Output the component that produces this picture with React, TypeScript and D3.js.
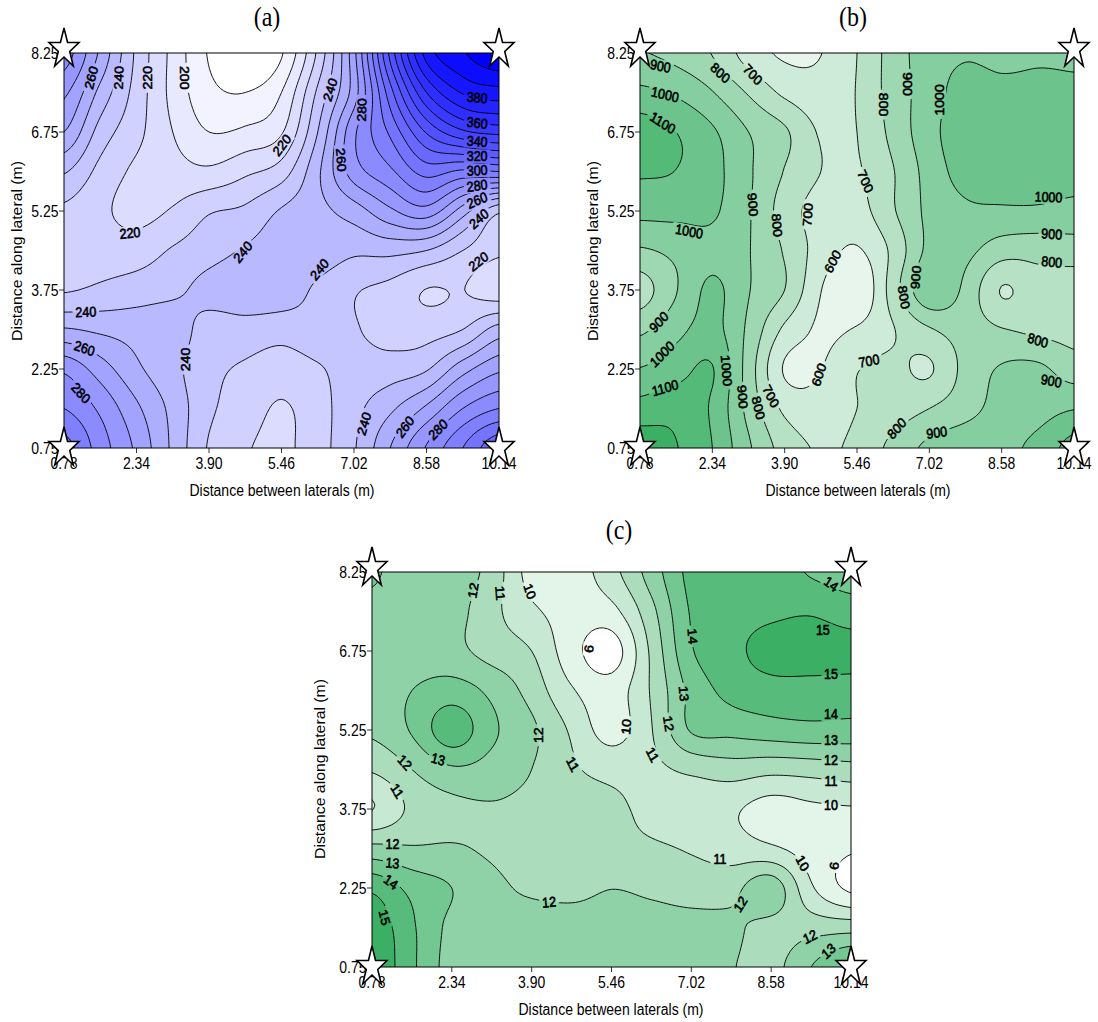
import React from "react";
import * as d3 from "d3";

const xTicks = [0.78, 2.34, 3.9, 5.46, 7.02, 8.58, 10.14];
const yTicks = [0.75, 2.25, 3.75, 5.25, 6.75, 8.25];
const xTitle = "Distance between laterals (m)";
const yTitle = "Distance along lateral (m)";

// Values read on a regular grid: columns run 0.78..10.14 (step 0.78), rows run 8.25..0.75 (step 0.75)
const gridA = [
  [285, 258, 228, 207, 189, 178, 189, 222, 267, 333, 384, 399, 408],
  [272, 247, 226, 207, 193, 190, 200, 232, 265, 316, 360, 381, 386],
  [260, 236, 223, 210, 200, 202, 209, 240, 278, 302, 331, 348, 353],
  [241, 227, 218, 214, 212, 218, 225, 248, 275, 288, 304, 298, 300],
  [228, 222, 217, 221, 229, 232, 241, 247, 255, 268, 276, 255, 232],
  [225, 225, 225, 231, 236, 241, 245, 246, 242, 243, 240, 230, 222],
  [229, 232, 235, 238, 243, 246, 246, 238, 231, 227, 219.7, 220.2, 214],
  [251, 248, 246, 245, 236, 236, 234, 236, 231, 226, 226, 230, 244],
  [278, 265, 252, 243, 233, 228.5, 225, 229, 234, 235, 239, 256, 268],
  [290, 278, 262, 247, 232, 225, 219, 226, 237, 248, 262, 280, 290],
  [304, 285, 268, 248, 229, 221, 218, 226, 239, 260, 281, 300, 318],
];
const gridB = [
  [905, 870, 795, 655, 585, 598, 700, 845, 955, 990, 970, 985, 985],
  [1024, 985, 905, 790, 680, 640, 705, 845, 950, 1045, 1030, 1030, 1020],
  [1150, 1100, 1015, 900, 815, 690, 700, 830, 965, 1060, 1050, 1050, 1050],
  [1112, 1098, 1035, 915, 795, 700, 690, 795, 940, 1040, 1050, 1045, 1040],
  [1030, 1030, 1015, 910, 755, 660, 660, 790, 925, 980, 985, 985, 968],
  [888, 925, 970, 905, 790, 655, 590, 725, 925, 925, 845, 835, 850],
  [755, 895, 1020, 905, 800, 603, 509, 750, 982, 875, 695, 760, 745],
  [880, 970, 1030, 880, 680, 585, 610, 695, 790, 840, 805, 780, 765],
  [1005, 1060, 1105, 855, 590, 598, 695, 720, 690, 830, 910, 920, 850],
  [1140, 1165, 1085, 870, 680, 640, 700, 745, 800, 865, 935, 960, 995],
  [1260, 1205, 1100, 915, 760, 690, 725, 830, 925, 965, 975, 1030, 1140],
];
const gridC = [
  [13.1, 12.6, 12.6, 11.6, 9.6, 9.5, 10.65, 12.45, 14.3, 14.6, 14.5, 13.9, 13.5],
  [12.8, 12.6, 12.4, 11.3, 10.2, 9.6, 9.7, 11.7, 14.1, 14.6, 14.8, 14.9, 14.5],
  [12.6, 12.5, 12.3, 11.6, 11.0, 9.4, 8.5, 11.2, 13.9, 14.7, 15.4, 15.5, 15.4],
  [12.6, 13.0, 13.45, 12.75, 11.6, 10.1, 9.5, 11.1, 13.3, 14.3, 14.6, 14.6, 14.55],
  [12.2, 13.1, 14.6, 13.2, 12.2, 10.85, 9.6, 10.95, 13.1, 13.3, 13.55, 13.7, 13.65],
  [11.1, 12.0, 12.85, 12.6, 12.0, 11.15, 10.7, 10.8, 11.2, 11.5, 11.3, 11.4, 11.6],
  [9.97, 11.2, 11.7, 11.9, 11.7, 11.5, 11.25, 10.7, 10.4, 10.15, 9.6, 9.8, 9.9],
  [12.3, 12.1, 12.1, 11.85, 11.5, 11.4, 11.3, 11.15, 10.9, 10.5, 10.15, 9.6, 9.1],
  [14.8, 13.7, 13.0, 12.3, 11.8, 11.7, 11.98, 11.8, 11.6, 11.7, 12.6, 10.15, 8.8],
  [15.7, 14.15, 12.75, 12.5, 12.6, 12.5, 12.5, 12.4, 12.3, 12.15, 11.7, 11.6, 11.6],
  [15.9, 14.2, 12.6, 12.5, 12.5, 12.5, 12.5, 12.4, 12.3, 12.05, 11.7, 13.0, 14.2],
];

const levelsA = d3.range(190, 410, 10);
const levelsB = [500, 600, 700, 800, 900, 1000, 1100, 1200];
const levelsC = [9, 10, 11, 12, 13, 14, 15];

// [text, x, y, angle]
type Lab = [string, number, number, number];
const labelsA: Lab[] = [
  ["260", 1.37, 7.78, -75], ["240", 1.96, 7.78, -88], ["220", 2.59, 7.78, -90], ["200", 3.37, 7.78, 90],
  ["240", 6.51, 7.55, -72], ["280", 7.19, 7.17, -88], ["220", 5.47, 6.5, -50], ["260", 6.74, 6.22, 85],
  ["380", 9.67, 7.4, 5], ["360", 9.67, 6.92, 6], ["340", 9.67, 6.57, 4], ["320", 9.67, 6.29, 0],
  ["300", 9.67, 6.02, -3], ["280", 9.67, 5.73, -7], ["260", 9.67, 5.45, -22], ["240", 9.71, 5.1, -38],
  ["220", 9.7, 4.29, -35], ["220", 2.2, 4.83, -5], ["240", 4.63, 4.47, -48], ["240", 6.28, 4.14, -48],
  ["240", 1.25, 3.33, -2], ["260", 1.22, 2.64, 17], ["240", 3.41, 2.43, -90], ["280", 1.14, 1.79, 45],
  ["240", 7.24, 1.21, -72], ["260", 8.12, 1.15, -50], ["280", 8.83, 1.1, -42],
];
const labelsB: Lab[] = [
  ["900", 1.22, 8.0, 10], ["800", 2.51, 7.87, 40], ["700", 3.21, 7.84, 45], ["1000", 1.32, 7.46, 12],
  ["1100", 1.27, 6.92, 30], ["1000", 7.25, 7.36, -90], ["900", 6.55, 7.66, 90], ["800", 6.02, 7.27, 90],
  ["700", 5.64, 5.81, 65], ["900", 3.21, 5.37, 85], ["800", 3.73, 4.98, 85], ["700", 4.4, 5.18, -85],
  ["1000", 1.84, 4.86, 10], ["1000", 9.59, 5.51, 2], ["900", 9.66, 4.81, 3], ["800", 9.66, 4.28, 5],
  ["600", 4.94, 4.29, -60], ["900", 6.73, 3.99, -85], ["800", 6.47, 3.61, 80], ["900", 1.19, 3.14, -45],
  ["1000", 1.26, 2.53, -42], ["800", 9.36, 2.79, 15], ["700", 5.72, 2.4, -10], ["600", 4.64, 2.14, -70],
  ["1000", 2.64, 2.22, 85], ["900", 2.99, 1.72, 85], ["800", 3.33, 1.51, 75], ["700", 3.6, 1.73, 60],
  ["1100", 1.32, 1.89, -15], ["900", 9.65, 2.02, 10], ["900", 7.18, 1.04, -8], ["800", 6.32, 1.12, -45],
];
const labelsC: Lab[] = [
  ["12", 2.76, 7.9, -80], ["11", 3.28, 7.85, 85], ["10", 3.86, 7.88, 70], ["14", 9.75, 8.02, 35],
  ["15", 9.59, 7.14, 0], ["14", 7.04, 7.03, 85], ["9", 5.02, 6.79, 95], ["15", 9.75, 6.31, 0],
  ["13", 6.87, 5.94, 85], ["14", 9.75, 5.55, 0], ["12", 6.57, 5.37, 80], ["12", 4.03, 5.15, -90],
  ["10", 5.75, 5.31, -85], ["13", 9.75, 5.05, 0], ["12", 9.75, 4.67, 0], ["11", 6.26, 4.78, 60],
  ["11", 4.7, 4.6, 60], ["13", 2.07, 4.69, 15], ["12", 1.42, 4.63, 45], ["11", 9.75, 4.28, 0],
  ["11", 1.27, 4.09, 55], ["10", 9.75, 3.83, 0], ["12", 1.18, 3.09, 0], ["13", 1.18, 2.72, 5],
  ["11", 7.58, 2.79, 0], ["10", 9.19, 2.72, 60], ["9", 9.81, 2.67, 95], ["14", 1.15, 2.36, 35],
  ["12", 4.24, 1.98, -5], ["12", 7.98, 1.94, -55], ["15", 1.02, 1.69, 75], ["12", 9.34, 1.32, -25],
  ["13", 9.7, 1.05, -40],
];

const FACTOR = 10;
const TALL = 1.13; // the original figure's lettering is drawn taller than wide

function refine(grid: number[][]) {
  const rows = grid.length, cols = grid[0].length;
  const at = (r: number, c: number) =>
    grid[Math.max(0, Math.min(rows - 1, r))][Math.max(0, Math.min(cols - 1, c))];
  const cr = (p0: number, p1: number, p2: number, p3: number, t: number) =>
    0.5 * (2 * p1 + (p2 - p0) * t + (2 * p0 - 5 * p1 + 4 * p2 - p3) * t * t + (3 * p1 - p0 - 3 * p2 + p3) * t * t * t);
  const w = (cols - 1) * FACTOR + 1, h = (rows - 1) * FACTOR + 1;
  const out = new Array(w * h);
  for (let j = 0; j < h; j++) {
    const rf = j / FACTOR, r = Math.min(rows - 2, Math.floor(rf)), tr = rf - r;
    for (let i = 0; i < w; i++) {
      const cf = i / FACTOR, c = Math.min(cols - 2, Math.floor(cf)), tc = cf - c;
      const v = [-1, 0, 1, 2].map((dr) =>
        cr(at(r + dr, c - 1), at(r + dr, c), at(r + dr, c + 1), at(r + dr, c + 2), tc));
      out[j * w + i] = cr(v[0], v[1], v[2], v[3], tr);
    }
  }
  return { values: out, w, h };
}

function Star({ x, y }: { x: number; y: number }) {
  const d = d3.symbol(d3.symbolStar, 1000)() as string;
  const R = Math.sqrt(1000 * 0.8908130915);
  return (
    <path d={d} fill="#fff" stroke="#000" strokeWidth={1.6} strokeLinejoin="miter"
      vectorEffect="non-scaling-stroke"
      transform={`translate(${x},${y + 2}) scale(${30 / (1.9 * R)},${38 / (1.81 * R)})`} />
  );
}

type PanelProps = {
  id: string; title: string; grid: number[][]; levels: number[]; colors: string[]; labels: Lab[];
  left: number; right: number; top: number; bottom: number; titleX: number; titleY: number;
  xTitleX: number; xTitleY: number; yTitleX: number; yTitleY: number;
};

function Panel(p: PanelProps) {
  const sx = d3.scaleLinear().domain([0.78, 10.14]).range([p.left, p.right]);
  const sy = d3.scaleLinear().domain([0.75, 8.25]).range([p.bottom, p.top]);
  const { values, w, h } = refine(p.grid);
  const gx = d3.scaleLinear().domain([0.5, w - 0.5]).range([p.left, p.right]);
  const gy = d3.scaleLinear().domain([0.5, h - 0.5]).range([p.top, p.bottom]);
  const path = d3.geoPath(d3.geoTransform({
    point(x: number, y: number) { (this as any).stream.point(gx(x), gy(y)); },
  }));
  const bands = d3.contours().size([w, h]).thresholds(p.levels)(values);
  const lw = p.right - p.left, lh = p.bottom - p.top;
  const tall = (x: number, y: number, a = 0) => `translate(${x},${y}) scale(1,${TALL}) rotate(${a})`;
  return (
    <g>
      <defs>
        <clipPath id={`clip-${p.id}`}><rect x={p.left} y={p.top} width={lw} height={lh} /></clipPath>
        <mask id={`mask-${p.id}`} maskUnits="userSpaceOnUse" x={p.left - 5} y={p.top - 5} width={lw + 10} height={lh + 10}>
          <rect x={p.left - 5} y={p.top - 5} width={lw + 10} height={lh + 10} fill="#fff" />
          {p.labels.map((l, i) => {
            const bw = l[0].length * 7.2 + 5;
            return <rect key={i} x={-bw / 2} y={-6} width={bw} height={12} fill="#000"
              transform={tall(sx(l[1]), sy(l[2]), l[3])} />;
          })}
        </mask>
      </defs>
      <text transform={tall(p.titleX, p.titleY)} textAnchor="middle" fontFamily="'Liberation Serif'" fontSize={24}>{p.title}</text>
      <rect x={p.left} y={p.top} width={lw} height={lh} fill="#fff" />
      <g clipPath={`url(#clip-${p.id})`}>
        {bands.map((b, i) => (
          <path key={i} d={path(b as any) || ""} fill={p.colors[i]} />
        ))}
        <g mask={`url(#mask-${p.id})`}>
          {bands.map((b, i) => (
            <path key={i} d={path(b as any) || ""} fill="none" stroke="#000" strokeWidth={0.9} />
          ))}
        </g>
      </g>
      {p.labels.map((l, i) => (
        <text key={i} textAnchor="middle" dominantBaseline="central" fontFamily="'Liberation Sans'" fontSize={12.5}
          stroke="#000" strokeWidth={0.55}
          transform={tall(sx(l[1]), sy(l[2]), l[3])}>{l[0]}</text>
      ))}
      <rect x={p.left} y={p.top} width={lw} height={lh} fill="none" stroke="#000" strokeWidth={1} />
      {xTicks.map((t) => (
        <g key={t} transform={`translate(${sx(t)},${p.bottom})`}>
          <line y2={5} stroke="#000" strokeWidth={0.8} />
          <text transform={tall(0, 21)} textAnchor="middle" fontFamily="'Liberation Sans'" fontSize={14}>{t.toFixed(2)}</text>
        </g>
      ))}
      {yTicks.map((t) => (
        <g key={t} transform={`translate(${p.left},${sy(t)})`}>
          <line x2={-5} stroke="#000" strokeWidth={0.8} />
          <text transform={tall(-5.5, 5.5)} textAnchor="end" fontFamily="'Liberation Sans'" fontSize={14}>{t.toFixed(2)}</text>
        </g>
      ))}
      <text transform={tall(p.xTitleX, p.xTitleY)} textAnchor="middle" fontFamily="'Liberation Sans'" fontSize={14}>{xTitle}</text>
      <text transform={tall(p.yTitleX, p.yTitleY, -90)} textAnchor="middle" fontFamily="'Liberation Sans'" fontSize={14}>{yTitle}</text>
      {[p.left, p.right].map((x) => [p.top - 6, p.bottom - 2].map((y) => <Star key={`${x}-${y}`} x={x} y={y} />))}
    </g>
  );
}

const blues = levelsA.map((l) => {
  const c = Math.max(0, Math.round(255 * (1 - (l - 180) / 220)));
  return `rgb(${c},${c},255)`;
});
const greens = (n: number) => d3.range(n).map((k) => d3.interpolateRgb("#fff", "#3bb065")((k + 1) / n));

export default function App() {
  return (
    <svg width={1098} height={1022} style={{ position: "absolute", left: 0, top: 0 }}>
      <rect width={1098} height={1022} fill="#fff" />
      <Panel id="a" title="(a)" grid={gridA} levels={levelsA} colors={blues} labels={labelsA}
        left={64} right={499} top={53} bottom={448} titleX={267} titleY={26}
        xTitleX={282} xTitleY={496} yTitleX={22} yTitleY={251} />
      <Panel id="b" title="(b)" grid={gridB} levels={levelsB} colors={greens(levelsB.length)} labels={labelsB}
        left={640} right={1074} top={53} bottom={448} titleX={853} titleY={26}
        xTitleX={858} xTitleY={496} yTitleX={598} yTitleY={251} />
      <Panel id="c" title="(c)" grid={gridC} levels={levelsC} colors={greens(levelsC.length)} labels={labelsC}
        left={372} right={851} top={572} bottom={967} titleX={619} titleY={539}
        xTitleX={611} xTitleY={1015} yTitleX={325} yTitleY={769} />
    </svg>
  );
}
